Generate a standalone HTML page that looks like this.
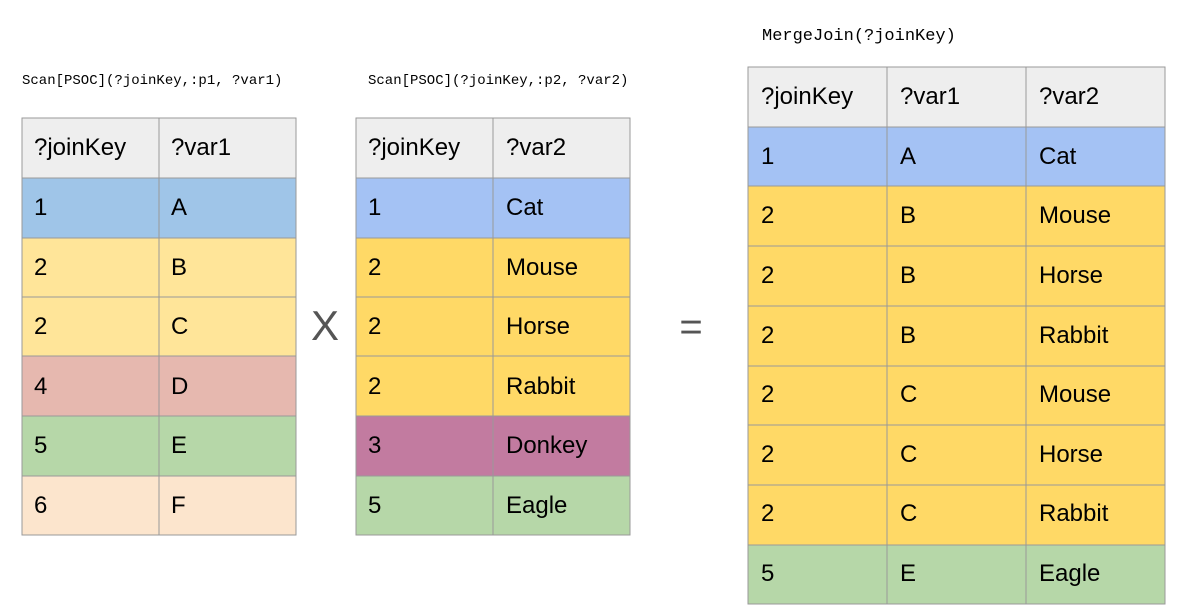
<!DOCTYPE html>
<html><head><meta charset="utf-8"><style>body{margin:0;background:#fff}svg{display:block}</style></head><body>
<svg width="1182" height="615" xmlns="http://www.w3.org/2000/svg" font-family="Liberation Sans, sans-serif" font-size="24">
<g font-family="Liberation Mono, monospace" font-size="14" fill="#000">
<text x="22" y="84">Scan[PSOC](?joinKey,:p1, ?var1)</text>
<text x="368" y="84">Scan[PSOC](?joinKey,:p2, ?var2)</text>
<text x="762" y="40" font-size="17">MergeJoin(?joinKey)</text>
</g>
<text x="325" y="340" font-size="42" fill="#555" text-anchor="middle">X</text>
<text x="691" y="340" font-size="40" fill="#555" text-anchor="middle">=</text>

<g stroke="#999" stroke-width="1">
<rect x="22" y="118" width="274" height="60" fill="#eeeeee"/>
<rect x="22" y="178" width="274" height="60" fill="#9fc5e8"/>
<rect x="22" y="238" width="274" height="59" fill="#ffe599"/>
<rect x="22" y="297" width="274" height="59" fill="#ffe599"/>
<rect x="22" y="356" width="274" height="60" fill="#e6b8af"/>
<rect x="22" y="416" width="274" height="60" fill="#b6d7a8"/>
<rect x="22" y="476" width="274" height="59" fill="#fce5cd"/>
<line x1="159" y1="118" x2="159" y2="535"/>
</g>
<g fill="#000">
<text x="34" y="155">?joinKey</text><text x="171" y="155">?var1</text>
<text x="34" y="215">1</text><text x="171" y="215">A</text>
<text x="34" y="275">2</text><text x="171" y="275">B</text>
<text x="34" y="334">2</text><text x="171" y="334">C</text>
<text x="34" y="394">4</text><text x="171" y="394">D</text>
<text x="34" y="453">5</text><text x="171" y="453">E</text>
<text x="34" y="513">6</text><text x="171" y="513">F</text>
</g>

<g stroke="#999" stroke-width="1">
<rect x="356" y="118" width="274" height="60" fill="#eeeeee"/>
<rect x="356" y="178" width="274" height="60" fill="#a4c2f4"/>
<rect x="356" y="238" width="274" height="59" fill="#ffd966"/>
<rect x="356" y="297" width="274" height="59" fill="#ffd966"/>
<rect x="356" y="356" width="274" height="60" fill="#ffd966"/>
<rect x="356" y="416" width="274" height="60" fill="#c27ba0"/>
<rect x="356" y="476" width="274" height="59" fill="#b6d7a8"/>
<line x1="493" y1="118" x2="493" y2="535"/>
</g>
<g fill="#000">
<text x="368" y="155">?joinKey</text><text x="506" y="155">?var2</text>
<text x="368" y="215">1</text><text x="506" y="215">Cat</text>
<text x="368" y="275">2</text><text x="506" y="275">Mouse</text>
<text x="368" y="334">2</text><text x="506" y="334">Horse</text>
<text x="368" y="394">2</text><text x="506" y="394">Rabbit</text>
<text x="368" y="453">3</text><text x="506" y="453">Donkey</text>
<text x="368" y="513">5</text><text x="506" y="513">Eagle</text>
</g>

<g stroke="#999" stroke-width="1">
<rect x="748" y="67" width="417" height="60" fill="#eeeeee"/>
<rect x="748" y="127" width="417" height="59" fill="#a4c2f4"/>
<rect x="748" y="186" width="417" height="60" fill="#ffd966"/>
<rect x="748" y="246" width="417" height="60" fill="#ffd966"/>
<rect x="748" y="306" width="417" height="60" fill="#ffd966"/>
<rect x="748" y="366" width="417" height="59" fill="#ffd966"/>
<rect x="748" y="425" width="417" height="60" fill="#ffd966"/>
<rect x="748" y="485" width="417" height="60" fill="#ffd966"/>
<rect x="748" y="545" width="417" height="59" fill="#b6d7a8"/>
<line x1="887" y1="67" x2="887" y2="604"/>
<line x1="1026" y1="67" x2="1026" y2="604"/>
</g>
<g fill="#000">
<text x="761" y="104">?joinKey</text><text x="900" y="104">?var1</text><text x="1039" y="104">?var2</text>
<text x="761" y="164">1</text><text x="900" y="164">A</text><text x="1039" y="164">Cat</text>
<text x="761" y="223">2</text><text x="900" y="223">B</text><text x="1039" y="223">Mouse</text>
<text x="761" y="283">2</text><text x="900" y="283">B</text><text x="1039" y="283">Horse</text>
<text x="761" y="343">2</text><text x="900" y="343">B</text><text x="1039" y="343">Rabbit</text>
<text x="761" y="402">2</text><text x="900" y="402">C</text><text x="1039" y="402">Mouse</text>
<text x="761" y="462">2</text><text x="900" y="462">C</text><text x="1039" y="462">Horse</text>
<text x="761" y="521">2</text><text x="900" y="521">C</text><text x="1039" y="521">Rabbit</text>
<text x="761" y="581">5</text><text x="900" y="581">E</text><text x="1039" y="581">Eagle</text>
</g>
</svg>
</body></html>
